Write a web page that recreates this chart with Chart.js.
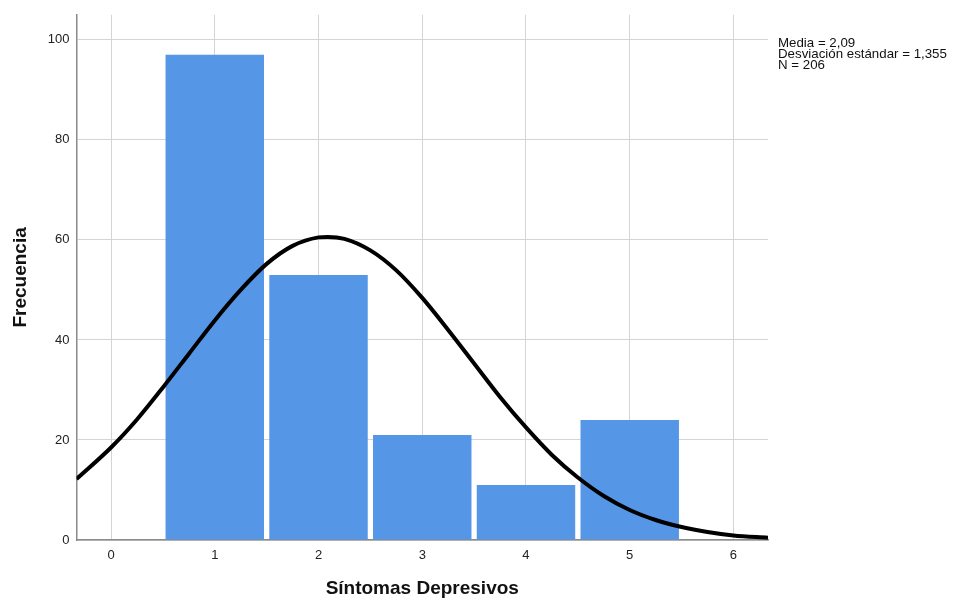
<!DOCTYPE html>
<html>
<head>
<meta charset="utf-8">
<script src="https://cdn.jsdelivr.net/npm/chart.js@4"></script>
<style>
  html, body { margin: 0; padding: 0; background: #fff; }
  #wrap { width: 953px; height: 604px; }
</style>
</head>
<body>
<div id="wrap"><canvas id="myChart" width="953" height="604"></canvas></div>
<script>
// histograma
const categorias = [1, 2, 3, 4, 5];
const frecuencias = [97, 53, 21, 11, 24];
// curva normal
const curvaX = [-0.333, 0, 0.25, 0.5, 0.75, 1, 1.25, 1.5, 1.75, 2, 2.09, 2.25, 2.5, 2.75, 3, 3.25, 3.5, 3.75, 4, 4.25, 4.5, 4.75, 5, 5.25, 5.5, 5.75, 6, 6.333];
const curvaY = [12.2, 18.5, 24.1, 30.5, 37.2, 43.9, 50.0, 55.2, 58.8, 60.5, 60.6, 60.2, 57.9, 53.9, 48.4, 42.0, 35.3, 28.6, 22.5, 17.0, 12.5, 8.8, 6.0, 4.0, 2.6, 1.6, 0.9, 0.45];
const ticksX = [0, 1, 2, 3, 4, 5, 6];
const ticksY = [0, 20, 40, 60, 80, 100];
const resumen = ['Media = 2,09', 'Desviación estándar = 1,355', 'N = 206'];

const fuente = "'Liberation Sans', Arial, sans-serif";
Chart.defaults.font.family = fuente;
Chart.defaults.color = '#222';

const textoResumen = {
  id: 'textoResumen',
  afterDraw(chart) {
    const c = chart.ctx;
    c.save();
    c.font = '13.3px ' + fuente;
    c.fillStyle = '#111';
    c.textBaseline = 'alphabetic';
    resumen.forEach((t, i) => c.fillText(t, 778, 47 + i * 11.2));
    c.restore();
  }
};

const ctx = document.getElementById('myChart');
new Chart(ctx, {
  type: 'bar',
  data: {
    datasets: [{
      type: 'line',
      data: curvaX.map((x, i) => ({x: x, y: curvaY[i]})),
      borderColor: '#000',
      borderWidth: 4,
      pointRadius: 0,
      tension: 0.4,
      cubicInterpolationMode: 'monotone',
      fill: false,
      order: 0
    }, {
      type: 'bar',
      data: categorias.map((x, i) => ({x: x, y: frecuencias[i]})),
      backgroundColor: '#5596E6',
      borderWidth: 0,
      barPercentage: 0.949,
      categoryPercentage: 1,
      order: 1
    }]
  },
  options: {
    responsive: false,
    animation: false,
    layout: { padding: { left: 0, right: 185, top: 11, bottom: 0 } },
    plugins: { legend: { display: false }, tooltip: { enabled: false } },
    scales: {
      x: {
        type: 'linear',
        min: -0.333,
        max: 6.333,
        offset: false,
        grid: { offset: false, color: '#d4d4d4', drawTicks: false, lineWidth: 1 },
        border: { color: '#8a8a8a', width: 1.5 },
        afterBuildTicks: (s) => { s.ticks = ticksX.map(v => ({value: v})); },
        ticks: { padding: 8, font: { size: 13 } },
        afterFit: (s) => { s.height = 64; },
        title: { display: true, text: 'Síntomas Depresivos', font: { size: 19, weight: 'bold' }, color: '#111', padding: { bottom: 3.8 } }
      },
      y: {
        min: 0,
        max: 105,
        grid: { color: '#d4d4d4', drawTicks: false, lineWidth: 1 },
        border: { color: '#8a8a8a', width: 1.5 },
        afterBuildTicks: (s) => { s.ticks = ticksY.map(v => ({value: v})); },
        ticks: { padding: 7, font: { size: 13 } },
        afterFit: (s) => { s.width = 76.5; },
        title: { display: true, text: 'Frecuencia', font: { size: 19, weight: 'bold' }, color: '#111', padding: { top: 9 } }
      }
    }
  },
  plugins: [textoResumen]
});
</script>
</body>
</html>
